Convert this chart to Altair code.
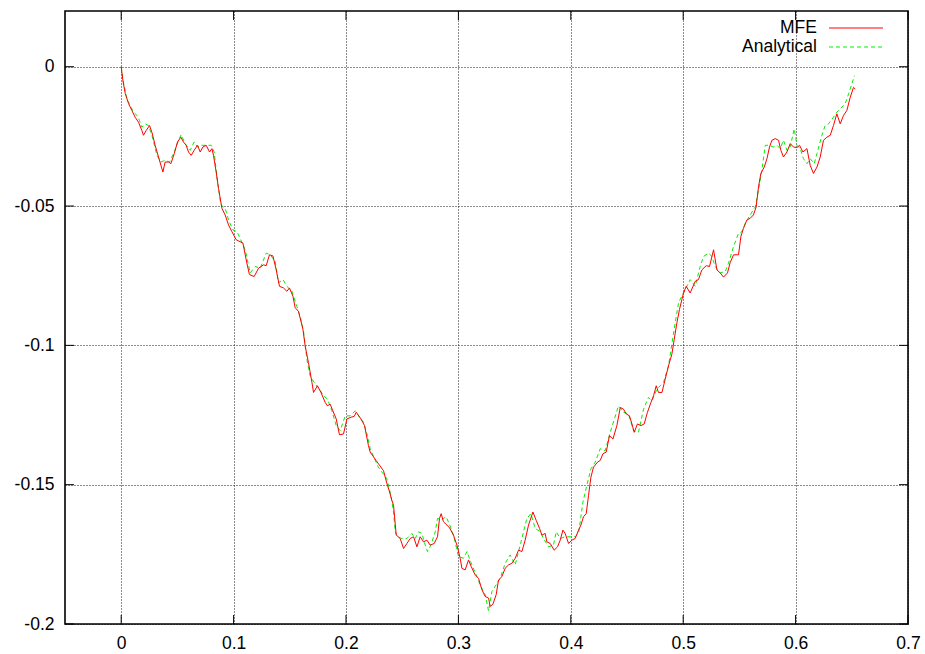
import altair as alt
import pandas as pd

# MFE (red, solid)
mfe_x = [0.0, 0.0015, 0.0036, 0.0065, 0.0095, 0.0125, 0.0154, 0.0184, 0.0198, 0.0222,
         0.0252, 0.0273, 0.0302, 0.0332, 0.0371, 0.0391, 0.0421, 0.0442, 0.0472, 0.0501,
         0.0531, 0.0554, 0.0578, 0.0599, 0.0623, 0.0649, 0.0679, 0.0703, 0.0727, 0.0756,
         0.0786, 0.0807, 0.0821, 0.0845, 0.0866, 0.0896, 0.0925, 0.0955, 0.0985, 0.1023,
         0.1083, 0.1118, 0.1141, 0.1183, 0.1222, 0.1266, 0.1290, 0.1319, 0.1350, 0.1379,
         0.1408, 0.1444, 0.1474, 0.1497, 0.1528, 0.1548, 0.1577, 0.1599, 0.1617, 0.1637,
         0.1666, 0.1697, 0.1711, 0.1746, 0.1777, 0.1815, 0.1835, 0.1859, 0.1883, 0.1913,
         0.1942, 0.1978, 0.2008, 0.2044, 0.2073, 0.2091, 0.2133, 0.2165, 0.2200, 0.2215,
         0.2269, 0.2334, 0.2364, 0.2384, 0.2408, 0.2423, 0.2447, 0.2482, 0.2512, 0.2542,
         0.2571, 0.2601, 0.2631, 0.2660, 0.2690, 0.2720, 0.2749, 0.2785, 0.2814, 0.2832,
         0.2847, 0.2867, 0.2898, 0.2921, 0.2956, 0.2987, 0.3016, 0.3031, 0.3060, 0.3090,
         0.3114, 0.3149, 0.3179, 0.3209, 0.3238, 0.3268, 0.3283, 0.3307, 0.3336, 0.3357,
         0.3387, 0.3416, 0.3446, 0.3476, 0.3505, 0.3535, 0.3565, 0.3594, 0.3624, 0.3663,
         0.3692, 0.3722, 0.3743, 0.3772, 0.3787, 0.3817, 0.3852, 0.3882, 0.3906, 0.3930,
         0.3950, 0.3980, 0.4010, 0.4039, 0.4069, 0.4090, 0.4113, 0.4137, 0.4158, 0.4179,
         0.4202, 0.4238, 0.4262, 0.4286, 0.4315, 0.4344, 0.4375, 0.4410, 0.4440, 0.4469,
         0.4493, 0.4522, 0.4544, 0.4564, 0.4593, 0.4624, 0.4653, 0.4682, 0.4713, 0.4736,
         0.4760, 0.4780, 0.4811, 0.4840, 0.4869, 0.4899, 0.4920, 0.4944, 0.4967, 0.4988,
         0.5003, 0.5027, 0.5062, 0.5107, 0.5136, 0.5166, 0.5205, 0.5234, 0.5270, 0.5300,
         0.5329, 0.5359, 0.5394, 0.5418, 0.5448, 0.5492, 0.5513, 0.5536, 0.5567, 0.5596,
         0.5625, 0.5649, 0.5670, 0.5691, 0.5721, 0.5745, 0.5768, 0.5789, 0.5819, 0.5848,
         0.5869, 0.5892, 0.5923, 0.5952, 0.5981, 0.6012, 0.6035, 0.6065, 0.6101, 0.6130,
         0.6159, 0.6190, 0.6219, 0.6248, 0.6278, 0.6308, 0.6337, 0.6367, 0.6397, 0.6426,
         0.6456, 0.6486, 0.6515, 0.6530]
mfe_y = [0.0, -0.0050, -0.0096, -0.0132, -0.0157, -0.0182, -0.0199, -0.0229, -0.0246, -0.0229,
         -0.0211, -0.0235, -0.0282, -0.0324, -0.0378, -0.0342, -0.0342, -0.0348, -0.0312, -0.0270,
         -0.0253, -0.0270, -0.0282, -0.0306, -0.0318, -0.0300, -0.0282, -0.0306, -0.0288, -0.0282,
         -0.0306, -0.0294, -0.0318, -0.0378, -0.0437, -0.0508, -0.0532, -0.0568, -0.0592, -0.0621,
         -0.0633, -0.0705, -0.0746, -0.0753, -0.0723, -0.0711, -0.0714, -0.0675, -0.0679, -0.0729,
         -0.0788, -0.0794, -0.0806, -0.0794, -0.0824, -0.0865, -0.0878, -0.0913, -0.0943, -0.1003,
         -0.1062, -0.1133, -0.1169, -0.1145, -0.1169, -0.1205, -0.1217, -0.1211, -0.1235, -0.1264,
         -0.1321, -0.1318, -0.1264, -0.1258, -0.1255, -0.1240, -0.1264, -0.1288, -0.1360, -0.1383,
         -0.1414, -0.1450, -0.1496, -0.1521, -0.1556, -0.1574, -0.1681, -0.1693, -0.1729, -0.1711,
         -0.1693, -0.1687, -0.1723, -0.1687, -0.1705, -0.1699, -0.1717, -0.1711, -0.1687, -0.1621,
         -0.1604, -0.1633, -0.1645, -0.1655, -0.1681, -0.1717, -0.1764, -0.1800, -0.1806, -0.1770,
         -0.1794, -0.1824, -0.1836, -0.1877, -0.1901, -0.1907, -0.1937, -0.1929, -0.1895, -0.1842,
         -0.1830, -0.1800, -0.1788, -0.1782, -0.1764, -0.1735, -0.1740, -0.1699, -0.1645, -0.1598,
         -0.1628, -0.1657, -0.1681, -0.1675, -0.1705, -0.1711, -0.1735, -0.1723, -0.1699, -0.1663,
         -0.1675, -0.1711, -0.1699, -0.1693, -0.1663, -0.1645, -0.1615, -0.1604, -0.1538, -0.1473,
         -0.1437, -0.1419, -0.1413, -0.1389, -0.1383, -0.1324, -0.1336, -0.1288, -0.1223, -0.1229,
         -0.1246, -0.1253, -0.1282, -0.1312, -0.1282, -0.1288, -0.1282, -0.1240, -0.1205, -0.1181,
         -0.1145, -0.1169, -0.1169, -0.1121, -0.1074, -0.1032, -0.0979, -0.0919, -0.0871, -0.0836,
         -0.0812, -0.0788, -0.0812, -0.0770, -0.0764, -0.0729, -0.0714, -0.0717, -0.0657, -0.0729,
         -0.0740, -0.0755, -0.0740, -0.0703, -0.0675, -0.0675, -0.0610, -0.0580, -0.0550, -0.0544,
         -0.0532, -0.0503, -0.0431, -0.0383, -0.0360, -0.0330, -0.0288, -0.0264, -0.0258, -0.0264,
         -0.0300, -0.0324, -0.0306, -0.0276, -0.0288, -0.0290, -0.0282, -0.0306, -0.0294, -0.0354,
         -0.0383, -0.0360, -0.0324, -0.0264, -0.0253, -0.0246, -0.0211, -0.0169, -0.0205, -0.0175,
         -0.0157, -0.0110, -0.0074, -0.0080]

# Analytical (green, dashed)
ana_x = [0.0, 0.0020, 0.0051, 0.0080, 0.0109, 0.0140, 0.0163, 0.0184, 0.0214, 0.0243,
         0.0273, 0.0318, 0.0353, 0.0391, 0.0430, 0.0472, 0.0510, 0.0534, 0.0569, 0.0614,
         0.0649, 0.0679, 0.0709, 0.0762, 0.0801, 0.0827, 0.0857, 0.0887, 0.0925, 0.0955,
         0.0994, 0.1029, 0.1044, 0.1103, 0.1148, 0.1192, 0.1237, 0.1290, 0.1326, 0.1370,
         0.1399, 0.1439, 0.1474, 0.1519, 0.1563, 0.1599, 0.1622, 0.1652, 0.1681, 0.1726,
         0.1764, 0.1800, 0.1835, 0.1875, 0.1913, 0.1948, 0.1993, 0.2037, 0.2082, 0.2120,
         0.2156, 0.2191, 0.2215, 0.2286, 0.2364, 0.2399, 0.2423, 0.2438, 0.2458, 0.2497,
         0.2542, 0.2586, 0.2616, 0.2645, 0.2675, 0.2705, 0.2725, 0.2755, 0.2794, 0.2814,
         0.2853, 0.2891, 0.2921, 0.2956, 0.3001, 0.3045, 0.3076, 0.3120, 0.3165, 0.3194,
         0.3238, 0.3268, 0.3298, 0.3327, 0.3372, 0.3416, 0.3461, 0.3505, 0.3550, 0.3609,
         0.3645, 0.3683, 0.3728, 0.3757, 0.3802, 0.3846, 0.3870, 0.3906, 0.3950, 0.3995,
         0.4039, 0.4069, 0.4108, 0.4143, 0.4179, 0.4217, 0.4262, 0.4306, 0.4351, 0.4424,
         0.4469, 0.4513, 0.4558, 0.4602, 0.4647, 0.4691, 0.4722, 0.4766, 0.4795, 0.4825,
         0.4869, 0.4899, 0.4929, 0.4959, 0.5018, 0.5062, 0.5107, 0.5151, 0.5181, 0.5225,
         0.5255, 0.5285, 0.5329, 0.5374, 0.5403, 0.5448, 0.5492, 0.5522, 0.5552, 0.5596,
         0.5641, 0.5670, 0.5700, 0.5730, 0.5759, 0.5803, 0.5834, 0.5863, 0.5892, 0.5923,
         0.5952, 0.5988, 0.6012, 0.6041, 0.6070, 0.6101, 0.6130, 0.6166, 0.6190, 0.6234,
         0.6263, 0.6293, 0.6337, 0.6367, 0.6397, 0.6441, 0.6471, 0.6500, 0.6524]
ana_y = [0.0, -0.0056, -0.0115, -0.0139, -0.0163, -0.0175, -0.0193, -0.0217, -0.0205, -0.0211,
         -0.0246, -0.0318, -0.0342, -0.0336, -0.0342, -0.0306, -0.0264, -0.0244, -0.0276, -0.0300,
         -0.0270, -0.0288, -0.0282, -0.0282, -0.0282, -0.0306, -0.0413, -0.0496, -0.0508, -0.0550,
         -0.0586, -0.0592, -0.0604, -0.0657, -0.0740, -0.0717, -0.0723, -0.0669, -0.0675, -0.0699,
         -0.0776, -0.0764, -0.0788, -0.0806, -0.0860, -0.0907, -0.0949, -0.1050, -0.1110, -0.1139,
         -0.1157, -0.1181, -0.1193, -0.1235, -0.1288, -0.1306, -0.1253, -0.1253, -0.1235, -0.1258,
         -0.1276, -0.1324, -0.1371, -0.1436, -0.1479, -0.1538, -0.1598, -0.1669, -0.1687, -0.1693,
         -0.1693, -0.1675, -0.1693, -0.1669, -0.1675, -0.1717, -0.1740, -0.1717, -0.1669, -0.1621,
         -0.1625, -0.1615, -0.1643, -0.1681, -0.1758, -0.1764, -0.1740, -0.1788, -0.1830, -0.1860,
         -0.1895, -0.1953, -0.1883, -0.1865, -0.1836, -0.1782, -0.1752, -0.1788, -0.1717, -0.1621,
         -0.1604, -0.1657, -0.1669, -0.1693, -0.1723, -0.1717, -0.1669, -0.1693, -0.1687, -0.1687,
         -0.1687, -0.1675, -0.1562, -0.1502, -0.1443, -0.1419, -0.1371, -0.1378, -0.1312, -0.1217,
         -0.1240, -0.1246, -0.1306, -0.1312, -0.1229, -0.1187, -0.1199, -0.1157, -0.1145, -0.1133,
         -0.1074, -0.0996, -0.0919, -0.0846, -0.0800, -0.0764, -0.0788, -0.0717, -0.0681, -0.0669,
         -0.0681, -0.0717, -0.0740, -0.0735, -0.0705, -0.0645, -0.0598, -0.0592, -0.0562, -0.0532,
         -0.0503, -0.0443, -0.0371, -0.0282, -0.0282, -0.0288, -0.0282, -0.0294, -0.0264, -0.0300,
         -0.0288, -0.0223, -0.0282, -0.0294, -0.0330, -0.0348, -0.0330, -0.0348, -0.0312, -0.0246,
         -0.0211, -0.0205, -0.0181, -0.0163, -0.0151, -0.0133, -0.0098, -0.0062, -0.0032]

x_ticks = [0, 0.1, 0.2, 0.3, 0.4, 0.5, 0.6, 0.7]
y_ticks = [0, -0.05, -0.1, -0.15, -0.2]
x_domain = [-0.05, 0.7]
y_domain = [-0.2, 0.02]
series_names = ["MFE", "Analytical"]

W, H = 843, 613
FONT = "Liberation Sans"
FS = 17.5

mfe_df = pd.DataFrame({"x": mfe_x, "y": mfe_y, "i": range(len(mfe_x))})
ana_df = pd.DataFrame({"x": ana_x, "y": ana_y, "i": range(len(ana_x))})

xs = alt.Scale(domain=x_domain, nice=False, zero=False)
ys = alt.Scale(domain=y_domain, nice=False, zero=False)

x_axis = alt.Axis(values=x_ticks, labelExpr="toString(datum.value)", title=None,
                  grid=True, gridDash=[1, 2], gridColor="#000", gridOpacity=0.9,
                  domain=False, ticks=False, labelPadding=10, labelFont=FONT,
                  labelFontSize=FS, labelColor="black", labelFlush=False,
                  labelOverlap=False)
y_axis = alt.Axis(values=y_ticks, labelExpr="toString(datum.value)", title=None,
                  grid=True, gridDash=[1, 2], gridColor="#000", gridOpacity=0.9,
                  domain=False, ticks=False, labelPadding=11, labelFont=FONT,
                  labelFontSize=FS, labelColor="black", labelFlush=False,
                  labelOverlap=False)

ana_line = alt.Chart(ana_df).mark_line(color="#00ee00", strokeWidth=1,
                                       strokeDash=[4, 3], clip=True).encode(
    x=alt.X("x:Q", scale=xs, axis=x_axis),
    y=alt.Y("y:Q", scale=ys, axis=y_axis),
    order="i:Q",
)
mfe_line = alt.Chart(mfe_df).mark_line(color="#ff0000", strokeWidth=1, clip=True).encode(
    x=alt.X("x:Q", scale=xs),
    y=alt.Y("y:Q", scale=ys),
    order="i:Q",
)

# inward tick marks (gnuplot style) on all four sides
xt_df = pd.DataFrame({"x": x_ticks})
yt_df = pd.DataFrame({"y": y_ticks})
xt_bottom = alt.Chart(xt_df).mark_rule(color="black").encode(
    x=alt.X("x:Q", scale=xs), y=alt.value(H), y2=alt.value(H - 9))
xt_top = alt.Chart(xt_df).mark_rule(color="black").encode(
    x=alt.X("x:Q", scale=xs), y=alt.value(0), y2=alt.value(9))
yt_left = alt.Chart(yt_df).mark_rule(color="black").encode(
    y=alt.Y("y:Q", scale=ys), x=alt.value(0), x2=alt.value(9))
yt_right = alt.Chart(yt_df).mark_rule(color="black").encode(
    y=alt.Y("y:Q", scale=ys), x=alt.value(W), x2=alt.value(W - 9))

# legend (gnuplot style, top right, label then sample)
leg_mfe_t = alt.Chart(pd.DataFrame({"t": [series_names[0]]})).mark_text(
    align="right", baseline="middle", font=FONT, fontSize=FS, color="black").encode(
    text="t:N", x=alt.value(752), y=alt.value(17))
leg_ana_t = alt.Chart(pd.DataFrame({"t": [series_names[1]]})).mark_text(
    align="right", baseline="middle", font=FONT, fontSize=FS, color="black").encode(
    text="t:N", x=alt.value(752), y=alt.value(36))
leg_mfe_l = alt.Chart(pd.DataFrame({"t": [series_names[0]]})).mark_rule(
    color="#ff0000", strokeWidth=1).encode(
    x=alt.value(764), x2=alt.value(818), y=alt.value(17))
leg_ana_l = alt.Chart(pd.DataFrame({"t": [series_names[1]]})).mark_rule(
    color="#00ee00", strokeWidth=1, strokeDash=[4, 3]).encode(
    x=alt.value(764), x2=alt.value(818), y=alt.value(36))

chart = alt.layer(
    ana_line, mfe_line, xt_bottom, xt_top, yt_left, yt_right,
    leg_mfe_t, leg_ana_t, leg_mfe_l, leg_ana_l,
).properties(
    width=W, height=H,
    padding={"left": 65, "top": 11, "right": 17, "bottom": 30},
    autosize=alt.AutoSizeParams(type="none"),
    background="white",
).configure_view(
    stroke="black", strokeWidth=1.6,
)

chart.save("out.html", embed_options={"renderer": "svg", "actions": False})
